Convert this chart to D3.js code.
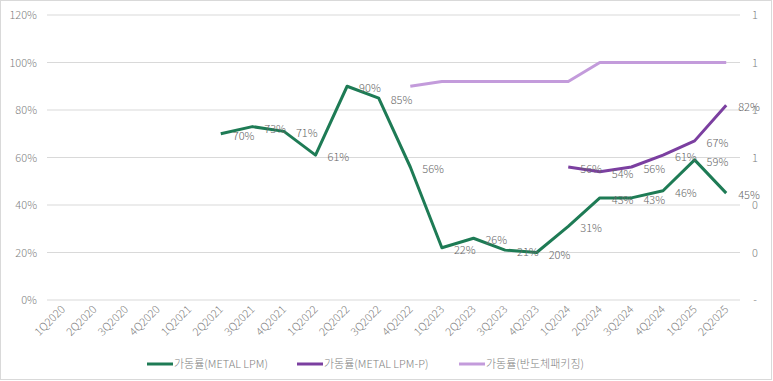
<!DOCTYPE html>
<html><head><meta charset="utf-8">
<script src="https://cdn.jsdelivr.net/npm/d3@7/dist/d3.min.js"></script>
<style>
html,body{margin:0;padding:0;background:#fff;}
svg text{font-family:"Noto Sans CJK KR","Noto Sans",sans-serif;font-weight:300;}
</style></head><body>
<svg id="c" width="773" height="381"></svg>
<script>
const categories = ["1Q2020","2Q2020","3Q2020","4Q2020","1Q2021","2Q2021","3Q2021","4Q2021","1Q2022","2Q2022","3Q2022","4Q2022","1Q2023","2Q2023","3Q2023","4Q2023","1Q2024","2Q2024","3Q2024","4Q2024","1Q2025","2Q2025"];
const metalLpm = [null,null,null,null,null,0.70,0.73,0.71,0.61,0.90,0.85,0.56,0.22,0.26,0.21,0.20,0.31,0.43,0.43,0.46,0.59,0.45];
const metalLpmP = [null,null,null,null,null,null,null,null,null,null,null,null,null,null,null,null,0.56,0.54,0.56,0.61,0.67,0.82];
const packaging = [null,null,null,null,null,null,null,null,null,null,null,0.90,0.92,0.92,0.92,0.92,0.92,1.00,1.00,1.00,1.00,1.00];
const leftTicks = [0,0.2,0.4,0.6,0.8,1.0,1.2];
const rightTickLabels = ["-","0","0","1","1","1","1"];
const seriesNames = ["가동률(METAL LPM)","가동률(METAL LPM-P)","가동률(반도체패키징)"];
const seriesColors = ["#1e7b55","#7b3fa0","#c39bdb"];

(function(){
const svg = d3.select("#c");
const W = 773, H = 381;
svg.append("rect").attr("x",0.5).attr("y",0.5).attr("width",W-2).attr("height",H-2)
  .attr("fill","#fff").attr("stroke","#d9d9d9");

const pL = 47, pR = 742, pT = 15, pB = 300;
const x = d3.scaleBand().domain(categories).range([pL,pR]);
const y = d3.scaleLinear().domain([0,1.2]).range([pB,pT]);
const cx = c => x(c) + x.bandwidth()/2;

svg.append("g").selectAll("line").data(leftTicks).join("line")
  .attr("x1",pL).attr("x2",740).attr("y1",d=>y(d)).attr("y2",d=>y(d))
  .attr("stroke","#d9d9d9").attr("stroke-width",1);

svg.append("g").selectAll("text").data(leftTicks).join("text")
  .attr("x",37).attr("y",d=>y(d)+4).attr("text-anchor","end")
  .attr("font-size",11).attr("fill","#7f7f7f")
  .text(d=>d3.format(".0%")(d));

svg.append("g").selectAll("text").data(leftTicks).join("text")
  .attr("x",755).attr("y",d=>y(d)+4).attr("text-anchor","middle")
  .attr("font-size",11).attr("fill","#7f7f7f")
  .text((d,i)=>rightTickLabels[i]);

svg.append("g").selectAll("text").data(categories).join("text")
  .attr("transform",d=>`translate(${cx(d)+3},${pB+10}) rotate(-45)`)
  .attr("text-anchor","end").attr("font-size",11).attr("fill","#7f7f7f")
  .text(d=>d);

const line = d3.line().defined(d=>d.v!==null).x(d=>cx(d.c)).y(d=>y(d.v));
const allSeries = [metalLpm, metalLpmP, packaging];
[2,1,0].forEach(i=>{
  const data = categories.map((c,j)=>({c, v: allSeries[i][j]}));
  svg.append("path").datum(data).attr("d",line).attr("fill","none")
    .attr("stroke",seriesColors[i]).attr("stroke-width",3).attr("stroke-linejoin","round");
});

[0,1].forEach(i=>{
  const data = categories.map((c,j)=>({c, v: allSeries[i][j]})).filter(d=>d.v!==null);
  svg.append("g").selectAll("text").data(data).join("text")
    .attr("x",d=>cx(d.c)+12).attr("y",d=>y(d.v)+6)
    .attr("font-size",11).attr("fill","#666666")
    .text(d=>d3.format(".0%")(d.v));
});

const legX = [147, 297, 459];
const lg = svg.append("g");
seriesNames.forEach((n,i)=>{
  lg.append("line").attr("x1",legX[i]).attr("x2",legX[i]+26).attr("y1",364).attr("y2",364)
    .attr("stroke",seriesColors[i]).attr("stroke-width",3);
  lg.append("text").attr("x",legX[i]+27).attr("y",368).attr("font-size",11).attr("fill","#7f7f7f").text(n);
});
})();
</script>
</body></html>
